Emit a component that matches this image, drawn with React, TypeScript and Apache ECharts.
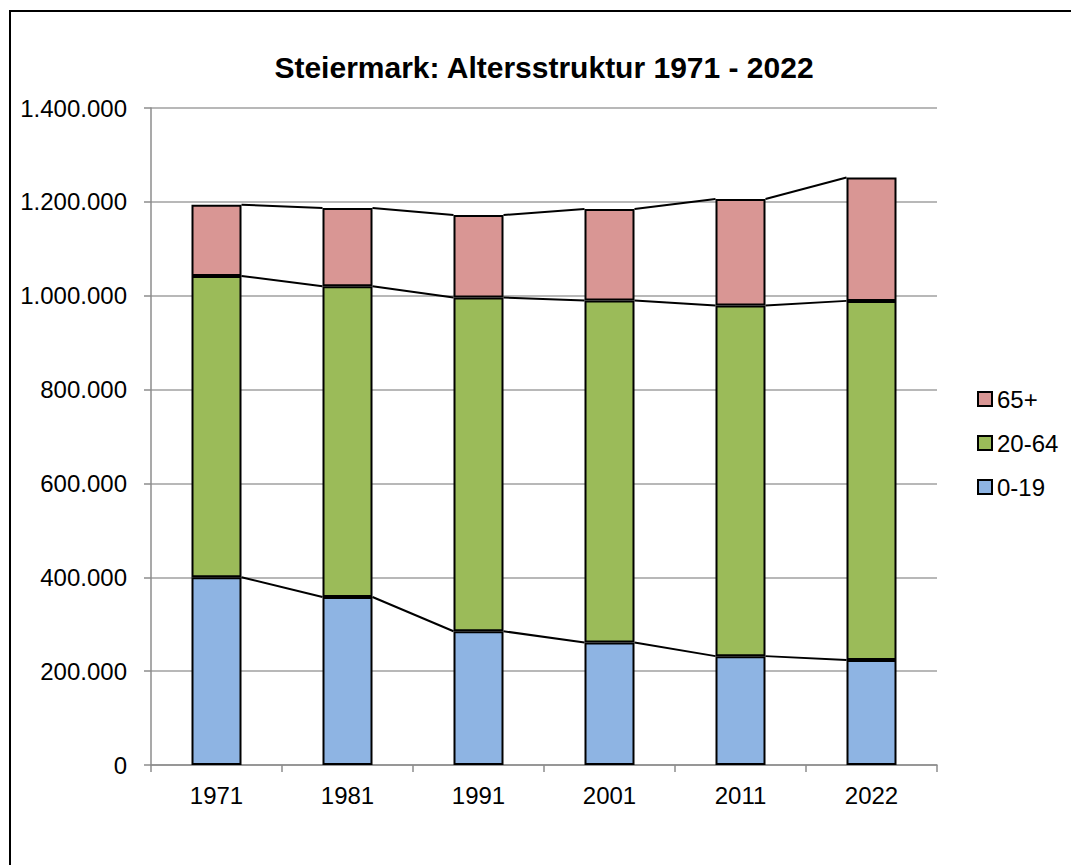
import React, { useEffect, useRef } from "react";
import * as echarts from "echarts";

const years = ["1971", "1981", "1991", "2001", "2011", "2022"];
const age0to19 = [400000, 358000, 285000, 261000, 232000, 224000];
const age20to64 = [642000, 662000, 711000, 729000, 747000, 765000];
const age65plus = [152000, 167000, 176000, 195000, 227000, 263000];
const seriesNames = ["0-19", "20-64", "65+"];
const colors = ["#8EB4E3", "#9BBB59", "#D99694"];

const BAR_W = 50;

function fmt(v: number) {
  return String(v).replace(/\B(?=(\d{3})+(?!\d))/g, ".");
}

export default function App() {
  const ref = useRef<HTMLDivElement>(null);
  useEffect(() => {
    if (!ref.current) return;
    const chart = echarts.init(ref.current, undefined, { renderer: "svg" });
    const stacks = [age0to19, age20to64, age65plus];
    const cum: number[][] = [];
    stacks.forEach((arr, k) => {
      cum.push(arr.map((v, i) => v + (k > 0 ? cum[k - 1][i] : 0)));
    });
    const segData: number[][] = [];
    cum.forEach((c) => {
      for (let i = 0; i < c.length - 1; i++) segData.push([i, c[i], i + 1, c[i + 1]]);
    });
    const font = "'Liberation Sans', Arial, sans-serif";
    chart.setOption({
      animation: false,
      title: {
        text: "Steiermark: Altersstruktur 1971 - 2022",
        left: 539,
        textAlign: "center",
        top: 47,
        textStyle: { fontFamily: font, fontSize: 30, fontWeight: "bold", color: "#000" },
      },
      graphic: [
        {
          type: "rect",
          shape: { x: 10, y: 11, width: 1200, height: 1000 },
          style: { fill: "none", stroke: "#000", lineWidth: 2 },
          silent: true,
        },
      ],
      legend: {
        orient: "vertical",
        left: 972,
        top: 382,
        data: ["65+", "20-64", "0-19"],
        icon: "rect",
        itemWidth: 14,
        itemHeight: 14,
        itemGap: 20,
        itemStyle: { borderColor: "#000", borderWidth: 2 },
        textStyle: { fontFamily: font, fontSize: 24, color: "#000" },
      },
      grid: { left: 151, right: 134, top: 108, bottom: 100 },
      xAxis: {
        type: "category",
        data: years,
        axisLine: { lineStyle: { color: "#8C8C8C", width: 1.5 } },
        axisTick: { show: true, length: 7, lineStyle: { color: "#8C8C8C", width: 1.5 } },
        axisLabel: { fontFamily: font, fontSize: 24, color: "#000", margin: 18 },
      },
      yAxis: {
        type: "value",
        min: 0,
        max: 1400000,
        interval: 200000,
        axisLine: { show: true, lineStyle: { color: "#8C8C8C", width: 1.5 } },
        axisTick: { show: true, length: 7, lineStyle: { color: "#8C8C8C", width: 1.5 } },
        splitLine: { lineStyle: { color: "#A0A0A0", width: 1.5 } },
        axisLabel: { fontFamily: font, fontSize: 24, color: "#000", margin: 24, formatter: (v: number) => fmt(v) },
      },
      series: [
        ...stacks.map((arr, k) => ({
          name: seriesNames[k],
          type: "bar",
          stack: "total",
          barWidth: BAR_W,
          data: arr,
          itemStyle: { color: colors[k], borderColor: "#000", borderWidth: 2 },
        })),
        {
          type: "custom",
          name: "lines",
          z: 5,
          silent: true,
          data: segData,
          renderItem: (params: any, api: any) => {
            const p1 = api.coord([api.value(0), api.value(1)]);
            const p2 = api.coord([api.value(2), api.value(3)]);
            return {
              type: "line",
              shape: { x1: p1[0] + BAR_W / 2, y1: p1[1], x2: p2[0] - BAR_W / 2, y2: p2[1] },
              style: { stroke: "#000", lineWidth: 2 },
            };
          },
        },
      ],
    });
    return () => chart.dispose();
  }, []);
  return <div ref={ref} style={{ position: "absolute", left: 0, top: 0, width: 1071, height: 865 }} />;
}
